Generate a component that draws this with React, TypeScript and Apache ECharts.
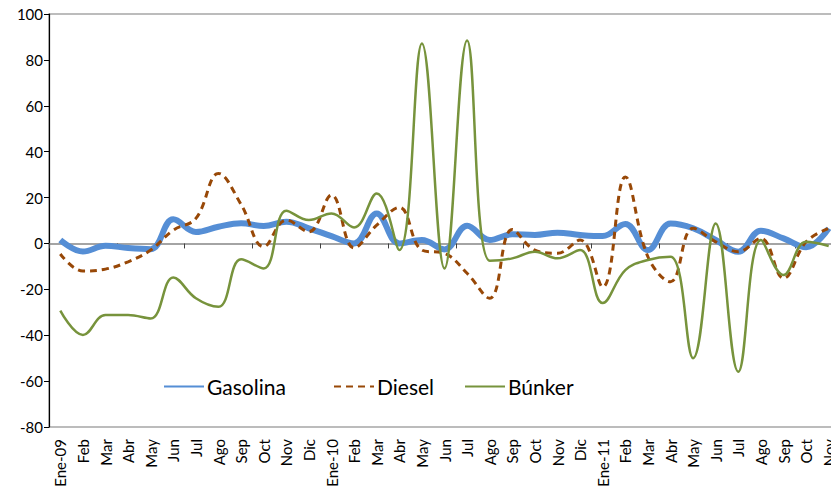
import React, { useEffect, useRef } from "react";
import * as echarts from "echarts";

const categories = [
  "Ene-09", "Feb", "Mar", "Abr", "May", "Jun", "Jul", "Ago", "Sep", "Oct", "Nov", "Dic",
  "Ene-10", "Feb", "Mar", "Abr", "May", "Jun", "Jul", "Ago", "Sep", "Oct", "Nov", "Dic",
  "Ene-11", "Feb", "Mar", "Abr", "May", "Jun", "Jul", "Ago", "Sep", "Oct", "Nov",
];

const gasolina = [
  1.5, -3.5, -1, -2, -2.5, 10.5, 5, 7.3, 8.8, 7.6, 9.5, 6.6,
  3.2, 0, 13.1, 0, 1.5, -2.6, 7.7, 1.5, 4, 3.7, 4.7, 3.7,
  3.2, 8.5, -2.9, 8.7, 6.6, 1.5, -3.6, 5.5, 2.2, -1.7, 6.6,
];

const diesel = [
  -4.6, -12, -11.2, -8, -2.9, 5.8, 10.9, 30.5, 17, -1.4, 10.2, 5.1,
  21.1, -1.9, 8, 15.7, -2.9, -4.3, -13, -23.9, 6.1, -2.9, -4.3, 1.5,
  -19, 29, -5.8, -16.7, 6.6, 0.7, -3.6, 2.2, -15.2, 0.7, 6.6,
];

const bunker = [
  -29.3, -39.9, -31.2, -31.2, -32.7, -14.8, -23.9, -27.6, -6.9, -10.9, 14.3, 10.2,
  13.1, 7, 21.8, -2.9, 87.1, -10.9, 88.4, -7.5, -6.5, -3.6, -6.5, -2.9,
  -26, -11.6, -7.2, -5.8, -50, 8.7, -55.9, 1.5, -13.8, 0.7, -1.1,
];

const yTicks = { min: -80, max: 100, interval: 20 };

const FONT = "Lato, 'Open Sans', sans-serif";

export default function App() {
  const ref = useRef<HTMLDivElement>(null);
  useEffect(() => {
    if (!ref.current) return;
    const chart = echarts.init(ref.current, null, { renderer: "svg" });
    const legendCommon = {
      top: 376,
      itemWidth: 40,
      itemHeight: 14,
      itemGap: 0,
      itemStyle: { opacity: 0, borderWidth: 0 },
      textStyle: { fontSize: 21, color: "#000", fontFamily: FONT, padding: [0, 0, 0, -2] },
      padding: 0,
    };
    chart.setOption({
      animation: false,
      textStyle: { fontFamily: FONT },
      grid: {
        left: 49,
        top: 14,
        bottom: 62,
        width: 791,
        show: true,
        borderColor: "#a6a6a6",
        borderWidth: 1.5,
        containLabel: false,
        outerBoundsMode: "none",
      },
      legend: [
        { ...legendCommon, left: 163, data: ["Gasolina"] },
        { ...legendCommon, left: 333, data: ["Diesel"] },
        { ...legendCommon, left: 464, data: ["Búnker"] },
      ],
      xAxis: [
        {
          type: "category",
          data: categories,
          boundaryGap: true,
          position: "bottom",
          axisLine: { show: false, onZero: false },
          axisTick: { show: false },
          axisLabel: {
            rotate: 90,
            interval: 0,
            fontSize: 15,
            color: "#000",
            fontFamily: FONT,
            margin: 12,
          },
          splitLine: { show: false },
        },
        {
          type: "category",
          data: categories,
          boundaryGap: true,
          position: "bottom",
          axisLine: { show: true, onZero: true, lineStyle: { color: "#868686", width: 1.5 } },
          axisTick: { show: true, length: 5, lineStyle: { color: "#404040", width: 1 } },
          axisLabel: { show: false },
          splitLine: { show: false },
        },
      ],
      yAxis: {
        type: "value",
        min: yTicks.min,
        max: yTicks.max,
        interval: yTicks.interval,
        axisLine: { show: true, lineStyle: { color: "#000", width: 1.2 } },
        axisTick: { show: true, length: 5, lineStyle: { color: "#000" } },
        axisLabel: { fontSize: 15, color: "#000", fontFamily: FONT, margin: 6 },
        splitLine: { show: false },
      },
      series: [
        {
          name: "Gasolina",
          type: "line",
          data: gasolina,
          smooth: 0.4,
          symbol: "none",
          xAxisIndex: 0,
          lineStyle: { color: "#558ed5", width: 6 },
          itemStyle: { color: "#558ed5" },
          z: 2,
        },
        {
          name: "Diesel",
          type: "line",
          data: diesel,
          smooth: 0.4,
          symbol: "none",
          xAxisIndex: 0,
          lineStyle: { color: "#984807", width: 3, type: [7, 5] },
          itemStyle: { color: "#984807" },
          z: 3,
        },
        {
          name: "Búnker",
          type: "line",
          data: bunker,
          smooth: 0.4,
          symbol: "none",
          xAxisIndex: 0,
          lineStyle: { color: "#77933c", width: 2.5 },
          itemStyle: { color: "#77933c" },
          z: 4,
        },
      ],
    });
    return () => chart.dispose();
  }, []);
  return <div ref={ref} style={{ width: 831, height: 489, position: "absolute", left: 0, top: 0 }} />;
}
